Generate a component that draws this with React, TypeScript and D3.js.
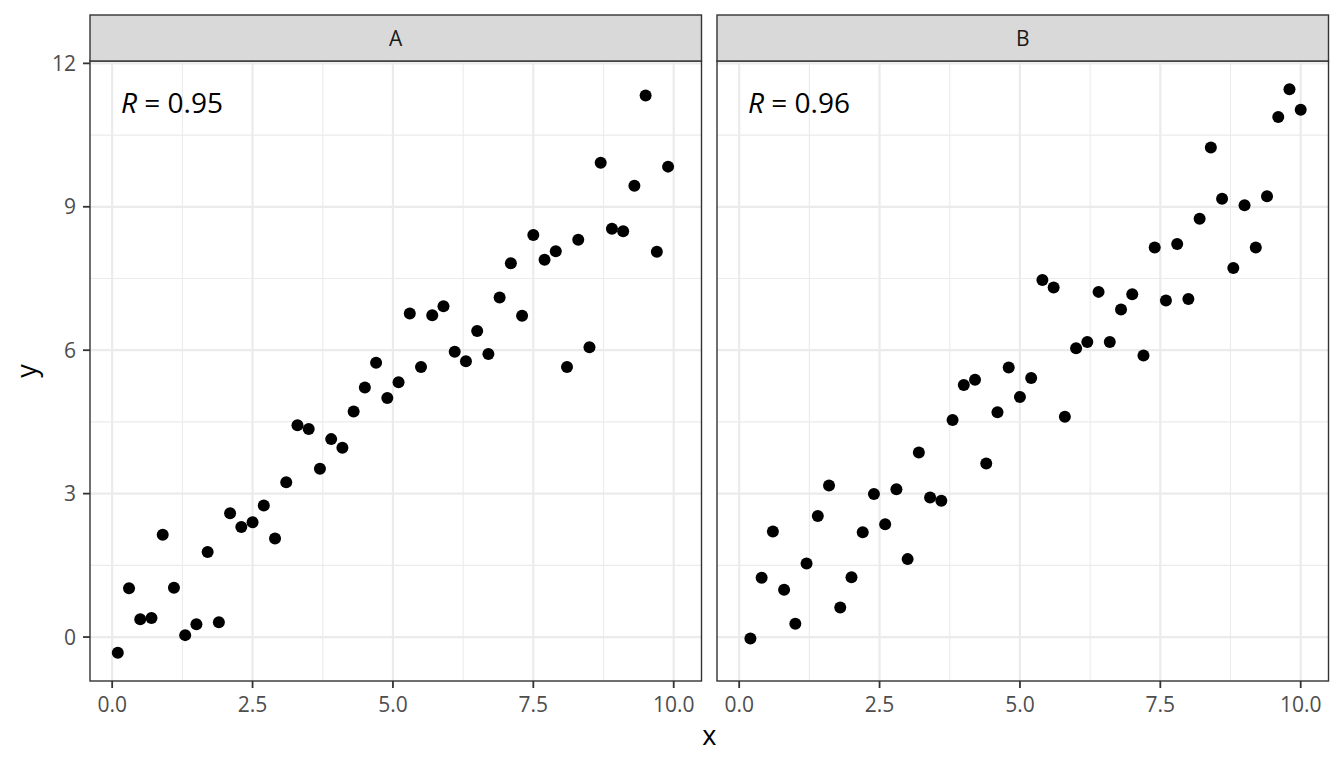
import React, { useRef, useEffect } from 'react';
import * as d3 from 'd3';

// facet labels and correlation labels
const panels = ['A', 'B'];
const corrLabels = ['0.95', '0.96'];

// series A
const xA = [0.1, 0.3, 0.5, 0.7, 0.9, 1.1, 1.3, 1.5, 1.7, 1.9, 2.1, 2.3, 2.5, 2.7, 2.9, 3.1, 3.3, 3.5, 3.7, 3.9,
    4.1, 4.3, 4.5, 4.7, 4.9, 5.1, 5.3, 5.5, 5.7, 5.9, 6.1, 6.3, 6.5, 6.7, 6.9, 7.1, 7.3, 7.5, 7.7, 7.9,
    8.1, 8.3, 8.5, 8.7, 8.9, 9.1, 9.3, 9.5, 9.7, 9.9];
const yA = [-0.33, 1.02, 0.37, 0.40, 2.14, 1.03, 0.04, 0.27, 1.78, 0.31, 2.59, 2.30, 2.40, 2.75, 2.06, 3.24, 4.43, 4.35, 3.52, 4.14,
    3.96, 4.72, 5.22, 5.74, 5.00, 5.33, 6.77, 5.65, 6.73, 6.92, 5.97, 5.77, 6.40, 5.92, 7.10, 7.82, 6.72, 8.41, 7.89, 8.07,
    5.65, 8.31, 6.06, 9.92, 8.54, 8.49, 9.44, 11.33, 8.06, 9.84];

// series B
const xB = [0.2, 0.4, 0.6, 0.8, 1.0, 1.2, 1.4, 1.6, 1.8, 2.0, 2.2, 2.4, 2.6, 2.8, 3.0, 3.2, 3.4, 3.6, 3.8, 4.0,
    4.2, 4.4, 4.6, 4.8, 5.0, 5.2, 5.4, 5.6, 5.8, 6.0, 6.2, 6.4, 6.6, 6.8, 7.0, 7.2, 7.4, 7.6, 7.8, 8.0,
    8.2, 8.4, 8.6, 8.8, 9.0, 9.2, 9.4, 9.6, 9.8, 10.0];
const yB = [-0.03, 1.24, 2.21, 0.99, 0.28, 1.54, 2.53, 3.17, 0.62, 1.25, 2.19, 2.99, 2.36, 3.09, 1.63, 3.86, 2.92, 2.85, 4.54, 5.27,
    5.38, 3.63, 4.70, 5.64, 5.02, 5.42, 7.47, 7.31, 4.61, 6.04, 6.17, 7.22, 6.17, 6.85, 7.17, 5.89, 8.15, 7.04, 8.22, 7.07,
    8.75, 10.24, 9.17, 7.72, 9.03, 8.15, 9.22, 10.88, 11.46, 11.03];

// axis breaks
const xBreaks = [0, 2.5, 5, 7.5, 10];
const xTickLabels = ['0.0', '2.5', '5.0', '7.5', '10.0'];
const xMinor = [1.25, 3.75, 6.25, 8.75];
const yBreaks = [0, 3, 6, 9, 12];
const yTickLabels = ['0', '3', '6', '9', '12'];
const yMinor = [1.5, 4.5, 7.5, 10.5];

const FONT = '"Open Sans", "Noto Sans", sans-serif';

const App: React.FC = () => {
    const svgRef = useRef<SVGSVGElement | null>(null);
    const width = 1344, height = 768;

    useEffect(() => {
        if (!svgRef.current) return;
        const svg = d3.select(svgRef.current);
        svg.selectAll('*').remove();

        const plotLeft = 90, plotRight = 1328.5, gap = 15.5;
        const stripTop = 15, panelTop = 61, panelBottom = 681;
        const panelW = (plotRight - plotLeft - gap) / 2;

        const series = [
            { x: xA, y: yA },
            { x: xB, y: yB },
        ];

        // shared (fixed) scales with ggplot-like 5% expansion
        const allX = [...xA, ...xB];
        const allY = [...yA, ...yB];
        const [x0, x1] = d3.extent(allX) as [number, number];
        const [y0, y1] = d3.extent(allY) as [number, number];
        const ex = (x1 - x0) * 0.05, ey = (y1 - y0) * 0.05;

        const y = d3.scaleLinear().domain([y0 - ey, y1 + ey]).range([panelBottom, panelTop]);

        panels.forEach((name, i) => {
            const left = plotLeft + i * (panelW + gap);
            const x = d3.scaleLinear().domain([x0 - ex, x1 + ex]).range([left, left + panelW]);
            const g = svg.append('g');

            // panel background
            g.append('rect')
                .attr('x', left).attr('y', panelTop)
                .attr('width', panelW).attr('height', panelBottom - panelTop)
                .attr('fill', 'white');

            // minor grid
            g.selectAll('.xminor').data(xMinor).join('line')
                .attr('x1', d => x(d)).attr('x2', d => x(d))
                .attr('y1', panelTop).attr('y2', panelBottom)
                .attr('stroke', '#EBEBEB').attr('stroke-width', 1.1);
            g.selectAll('.yminor').data(yMinor).join('line')
                .attr('x1', left).attr('x2', left + panelW)
                .attr('y1', d => y(d)).attr('y2', d => y(d))
                .attr('stroke', '#EBEBEB').attr('stroke-width', 1.1);

            // major grid
            g.selectAll('.xmajor').data(xBreaks).join('line')
                .attr('x1', d => x(d)).attr('x2', d => x(d))
                .attr('y1', panelTop).attr('y2', panelBottom)
                .attr('stroke', '#EBEBEB').attr('stroke-width', 2.2);
            g.selectAll('.ymajor').data(yBreaks).join('line')
                .attr('x1', left).attr('x2', left + panelW)
                .attr('y1', d => y(d)).attr('y2', d => y(d))
                .attr('stroke', '#EBEBEB').attr('stroke-width', 2.2);

            // points
            const s = series[i];
            g.selectAll('circle').data(s.x.map((v, k) => [v, s.y[k]])).join('circle')
                .attr('cx', d => x(d[0])).attr('cy', d => y(d[1]))
                .attr('r', 6).attr('fill', 'black');

            // correlation label
            const t = g.append('text')
                .attr('x', left + 31).attr('y', 112.5)
                .attr('font-family', FONT).attr('font-size', 28)
                .attr('fill', 'black');
            t.append('tspan').attr('font-style', 'italic').text('R');
            t.append('tspan').text(` = ${corrLabels[i]}`);

            // panel border
            g.append('rect')
                .attr('x', left).attr('y', panelTop)
                .attr('width', panelW).attr('height', panelBottom - panelTop)
                .attr('fill', 'none').attr('stroke', '#333333').attr('stroke-width', 1.4);

            // strip
            g.append('rect')
                .attr('x', left).attr('y', stripTop)
                .attr('width', panelW).attr('height', panelTop - stripTop)
                .attr('fill', '#D9D9D9').attr('stroke', '#333333').attr('stroke-width', 1.4);
            g.append('text')
                .attr('x', left + panelW / 2).attr('y', 46)
                .attr('text-anchor', 'middle')
                .attr('font-family', FONT).attr('font-size', 21)
                .attr('fill', '#1A1A1A')
                .text(name);

            // x ticks
            g.selectAll('.xtick').data(xBreaks).join('line')
                .attr('x1', d => x(d)).attr('x2', d => x(d))
                .attr('y1', panelBottom).attr('y2', panelBottom + 7)
                .attr('stroke', '#333333').attr('stroke-width', 1.8);
            g.selectAll('.xlab').data(xBreaks).join('text')
                .attr('x', d => x(d)).attr('y', 711.5)
                .attr('text-anchor', 'middle')
                .attr('font-family', FONT).attr('font-size', 21)
                .attr('fill', '#4D4D4D')
                .text((d, k) => xTickLabels[k]);
        });

        // y axis (left panel only)
        svg.selectAll('.ytick').data(yBreaks).join('line')
            .attr('x1', plotLeft - 7).attr('x2', plotLeft)
            .attr('y1', d => y(d)).attr('y2', d => y(d))
            .attr('stroke', '#333333').attr('stroke-width', 1.8);
        svg.selectAll('.ylab').data(yBreaks).join('text')
            .attr('x', plotLeft - 14).attr('y', d => y(d))
            .attr('dy', '0.36em')
            .attr('text-anchor', 'end')
            .attr('font-family', FONT).attr('font-size', 21)
            .attr('fill', '#4D4D4D')
            .text((d, k) => yTickLabels[k]);

        // axis titles
        svg.append('text')
            .attr('x', (plotLeft + plotRight) / 2).attr('y', 745)
            .attr('text-anchor', 'middle')
            .attr('font-family', FONT).attr('font-size', 27)
            .attr('fill', 'black')
            .text('x');
        svg.append('text')
            .attr('transform', `translate(36, ${(panelTop + panelBottom) / 2}) rotate(-90)`)
            .attr('text-anchor', 'middle')
            .attr('font-family', FONT).attr('font-size', 27)
            .attr('fill', 'black')
            .text('y');
    }, []);

    return (
        <svg
            ref={svgRef}
            width={width}
            height={height}
            style={{ position: 'absolute', left: 0, top: 0, background: 'white' }}
        />
    );
};

export default App;
